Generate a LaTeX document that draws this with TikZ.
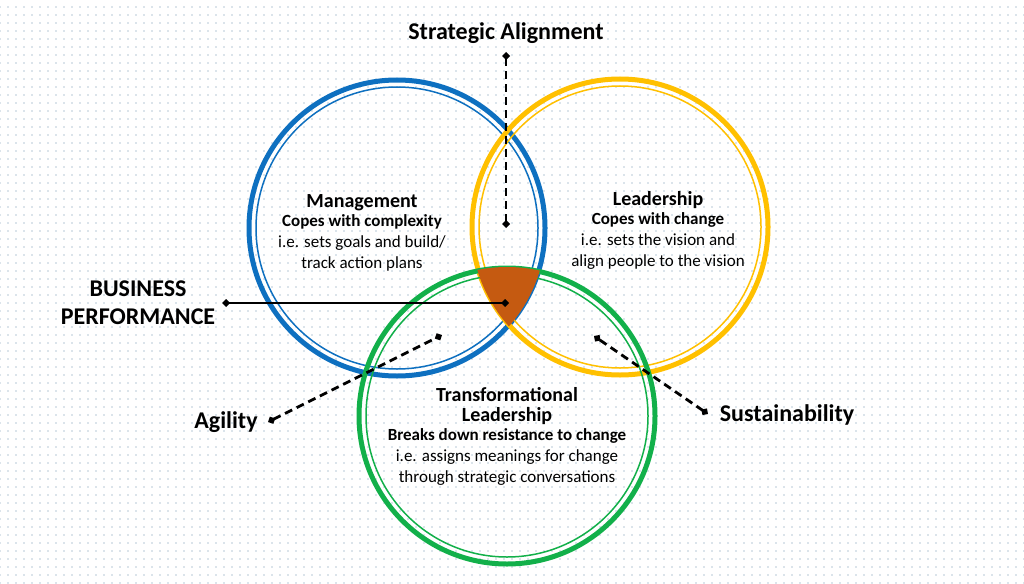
\documentclass[tikz,border=0pt]{standalone}
\usepackage{fontspec}
\setmainfont{Carlito}
\usetikzlibrary{patterns.meta,arrows.meta}
\definecolor{cblue}{HTML}{0E70C0}
\definecolor{cyel}{HTML}{FFC000}
\definecolor{cgreen}{HTML}{12B04A}
\definecolor{corange}{HTML}{C55A11}
\tikzset{
 ringout/.style={line width=5pt},
 ringin/.style={line width=1.5pt},
 lbl/.style={font=\fontsize{24}{28}\selectfont\bfseries},
 body/.style={align=center,font=\fontsize{17}{21}\selectfont},
 conn/.style={line width=2.8pt,{Turned Square[length=8pt,width=8pt]}-{Turned Square[length=8pt,width=8pt]}},
 dconn/.style={conn,dash pattern=on 8pt off 5pt},
}
\begin{document}
\begin{tikzpicture}[x=1pt,y=-1pt]
\fill[white] (0,0) rectangle (1024,583);
\fill[pattern={Dots[distance=8pt,radius=0.6pt]},pattern color=cblue!45!gray!85] (0,0) rectangle (1024,583);
\useasboundingbox (0,0) rectangle (1024,583);
\draw[cblue,ringout] (397,228) circle (148);
\draw[cblue,ringin] (397,228) circle (141);
\draw[cyel,ringout] (620,227) circle (148);
\draw[cyel,ringin] (620,227) circle (141);
\draw[cgreen,ringout] (507,416) circle (148);
\draw[cgreen,ringin] (507,416) circle (141);
% triple intersection
\begin{scope}
\clip (397,228) circle (149);
\clip (620,227) circle (149);
\fill[corange,rounded corners=4pt] (507,416) circle (149);
\end{scope}
% texts
\node[body] (man) at (362,233) {\textbf{\fontsize{20}{23}\selectfont Management}\\[-2pt]\textbf{Copes with complexity}\\i.e. sets goals and build/\\track action plans};
\node[body] (lead) at (658,230) {\textbf{\fontsize{20}{23}\selectfont Leadership}\\[-2pt]\textbf{Copes with change}\\i.e. sets the vision and\\align people to the vision};
\node[body] (tl) at (507,436) {\textbf{\fontsize{20}{24}\selectfont Transformational}\\[-1pt]\textbf{\fontsize{20}{24}\selectfont Leadership}\\[-2pt]\textbf{Breaks down resistance to change}\\i.e. assigns meanings for change\\through strategic conversations};
\node[lbl] (sa) at (506,33) {Strategic Alignment};
\node[lbl,align=center] (bp) at (138,303) {BUSINESS\\PERFORMANCE};
\node[lbl] (ag) at (226,422) {Agility};
\node[lbl] (su) at (787,415) {Sustainability};
\coordinate (sa1) at (506,52); \coordinate (sa2) at (506,228);
\coordinate (bp1) at (222,303); \coordinate (bp2) at (509,303);
\coordinate (ag1) at (268,422); \coordinate (ag2) at (442,335);
\coordinate (su1) at (708,414); \coordinate (su2) at (594,336);
\draw[dconn] (sa1) -- (sa2);
\draw[conn] (bp1) -- (bp2);
\draw[dconn] (ag1) -- (ag2);
\draw[dconn] (su1) -- (su2);
\end{tikzpicture}
\end{document}
